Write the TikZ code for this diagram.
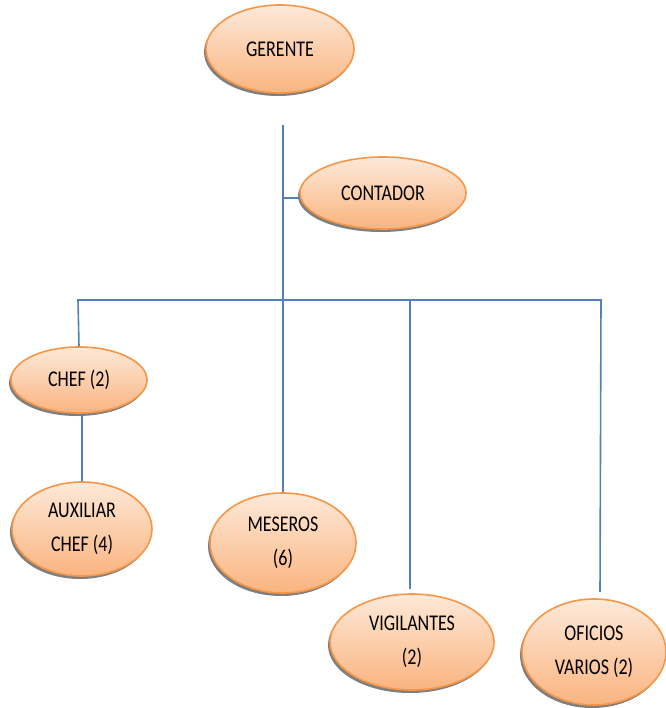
\documentclass[tikz,border=0pt]{standalone}
\usepackage{fontspec}
\usepackage{graphicx}
\setmainfont{Carlito}
\usetikzlibrary{shapes.geometric,shadows}
\definecolor{orgborder}{HTML}{F79646}
\definecolor{orgtop}{HTML}{FDE9D9}
\definecolor{orgbot}{HTML}{FAB47F}
\definecolor{linkblue}{HTML}{4F81BD}
\newcommand{\vtxt}[1]{\scalebox{1}[1.25]{#1}}
\begin{document}
\begin{tikzpicture}[x=1pt,y=-1pt,
  role/.style={ellipse, draw=orgborder, line width=1.6pt, top color=orgtop, bottom color=orgbot,
    align=center, inner sep=0pt, font=\fontsize{18}{34}\selectfont,
    drop shadow={shadow xshift=-2pt, shadow yshift=-3pt, fill=black, opacity=0.5}},
  link/.style={draw=linkblue, line width=1.6pt}]
\useasboundingbox (0,0) rectangle (665,708);
\node[role, minimum width=148, minimum height=88] (ger) at (280,49) {\vtxt{GERENTE}};
\node[role, minimum width=166, minimum height=72] (con) at (383,193) {\vtxt{CONTADOR}};
\node[role, minimum width=136, minimum height=66] (chef) at (79,380) {\vtxt{CHEF (2)}};
\node[role, minimum width=140, minimum height=94] (aux) at (82,529) {\vtxt{AUXILIAR}\\\vtxt{CHEF (4)}};
\node[role, minimum width=146, minimum height=100] (mes) at (283,543) {\vtxt{MESEROS}\\\vtxt{(6)}};
\node[role, minimum width=164, minimum height=96] (vig) at (412,642) {\vtxt{VIGILANTES}\\\vtxt{(2)}};
\node[role, minimum width=144, minimum height=106] (ofi) at (594,652) {\vtxt{OFICIOS}\\\vtxt{VARIOS (2)}};
\coordinate (top) at (283,125);
\coordinate (cj) at (283,198);
\coordinate (bL) at (78,300);
\coordinate (bR) at (601,300);
\coordinate (vtop) at (410,300);
\coordinate (vend) at (410,589);
\coordinate (oend) at (600,592);
\path[link] (top) -- (mes.north);
\path[link] (cj) -- (cj -| con.west);
\path[link] (chef.north) -- (bL) -- (bR) -- (oend);
\path[link] (vtop) -- (vend);
\path[link] (aux.north |- chef.south) -- (aux.north);
\end{tikzpicture}
\end{document}
